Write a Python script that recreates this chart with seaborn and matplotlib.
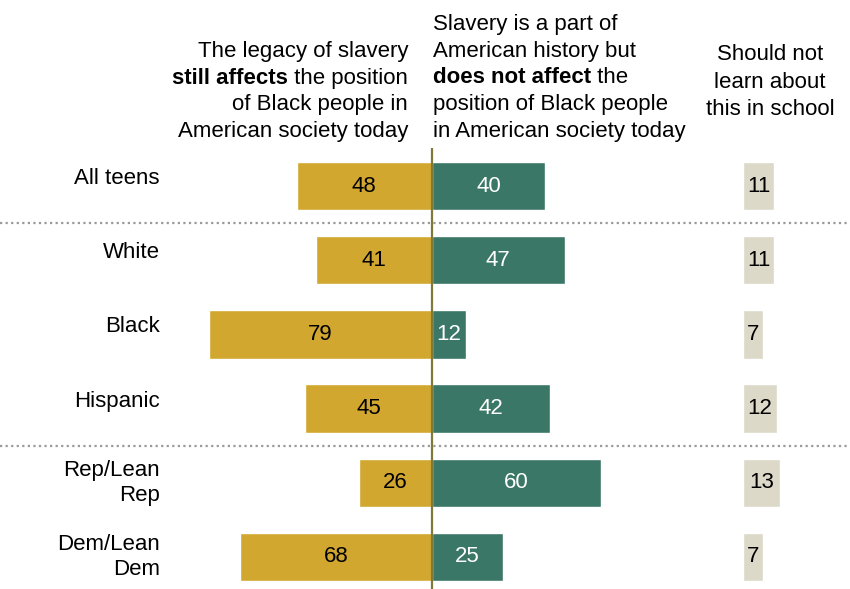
import matplotlib.pyplot as plt
import seaborn as sns
import pandas as pd

# values
groups = ["All teens", "White", "Black", "Hispanic", "Rep/Lean\nRep", "Dem/Lean\nDem"]
still_affects = [48, 41, 79, 45, 26, 68]
not_affect = [40, 47, 12, 42, 60, 25]
should_not = [11, 11, 7, 12, 13, 7]

gold = "#D1A730"
green = "#3A7767"
beige = "#DCD9C9"
olive = "#7E7A3A"

sns.set_theme(style="white")
plt.rcParams['font.family'] = ['Liberation Sans', 'DejaVu Sans']
plt.rcParams['text.color'] = 'black'
FS = 16

W, H = 850, 589
fig = plt.figure(figsize=(8.5, 5.89), dpi=100)

px = 2.82        # pixels per percentage point
center = 432     # pixel x of the zero line
top, bottom = 148, 589
row0, step = 186, 74.2
ylim = ((bottom - row0) / step, (top - row0) / step)

df = pd.DataFrame({"group": groups,
                   "still": [-v for v in still_affects],
                   "not": not_affect,
                   "no_school": should_not})

# main diverging chart
ax = fig.add_axes([0, 0, 1, (bottom - top) / H])
sns.barplot(data=df, x="still", y="group", color=gold, saturation=1,
            width=0.65, errorbar=None, ax=ax)
sns.barplot(data=df, x="not", y="group", color=green, saturation=1,
            width=0.65, errorbar=None, ax=ax)
ax.set_xlim(-center / px, (W - center) / px)
ax.set_ylim(*ylim)
ax.set_axis_off()

ax.bar_label(ax.containers[0], labels=still_affects, label_type="center",
             fontsize=FS, color="black")
ax.bar_label(ax.containers[1], labels=not_affect, label_type="center",
             fontsize=FS, color="white")

ax.axvline(0, color=olive, lw=1.6, zorder=5)
for yy in [0.5, 3.5]:
    ax.axhline(yy, color="#9a9a9a", lw=1.6, ls=(0, (1, 1.5)))

for i, g in enumerate(groups):
    off = 0 if "\n" in g else -0.1
    ax.text((160 - center) / px, i + off, g, ha="right", va="center",
            fontsize=FS, linespacing=1.25)

# "should not learn" column
ax2 = fig.add_axes([743 / W, 0, (W - 743) / W, (bottom - top) / H])
sns.barplot(data=df, x="no_school", y="group", color=beige, saturation=1,
            width=0.65, errorbar=None, ax=ax2)
ax2.set_xlim(0, (W - 743) / px)
ax2.set_ylim(*ylim)
ax2.set_axis_off()
ax2.bar_label(ax2.containers[0], labels=should_not, label_type="center",
              fontsize=FS, color="black")

# column headers
def fy(p):
    return 1 - p / H

fig.canvas.draw()
r = fig.canvas.get_renderer()

fig.text(408 / W, fy(57.3), "The legacy of slavery", ha="right", fontsize=FS)
t = fig.text(408 / W, fy(83.8), " the position", ha="right", fontsize=FS)
bb = t.get_window_extent(renderer=r)
fig.text(bb.x0 / W, fy(83.8), "still affects", ha="right", fontsize=FS,
         weight="bold")
fig.text(408 / W, fy(110.3), "of Black people in", ha="right", fontsize=FS)
fig.text(408 / W, fy(136.7), "American society today", ha="right", fontsize=FS)

fig.text(433 / W, fy(30), "Slavery is a part of", ha="left", fontsize=FS)
fig.text(433 / W, fy(56.7), "American history but", ha="left", fontsize=FS)
t = fig.text(433 / W, fy(83.3), "does not affect", ha="left", fontsize=FS,
             weight="bold")
bb = t.get_window_extent(renderer=r)
fig.text(bb.x1 / W, fy(83.3), " the", ha="left", fontsize=FS)
fig.text(433 / W, fy(110), "position of Black people", ha="left", fontsize=FS)
fig.text(433 / W, fy(136.7), "in American society today", ha="left", fontsize=FS)

for y, line in zip([60, 87.5, 115], ["Should not", "learn about", "this in school"]):
    fig.text(770 / W, fy(y), line, ha="center", fontsize=FS)

fig.savefig("out.png", dpi=100)
